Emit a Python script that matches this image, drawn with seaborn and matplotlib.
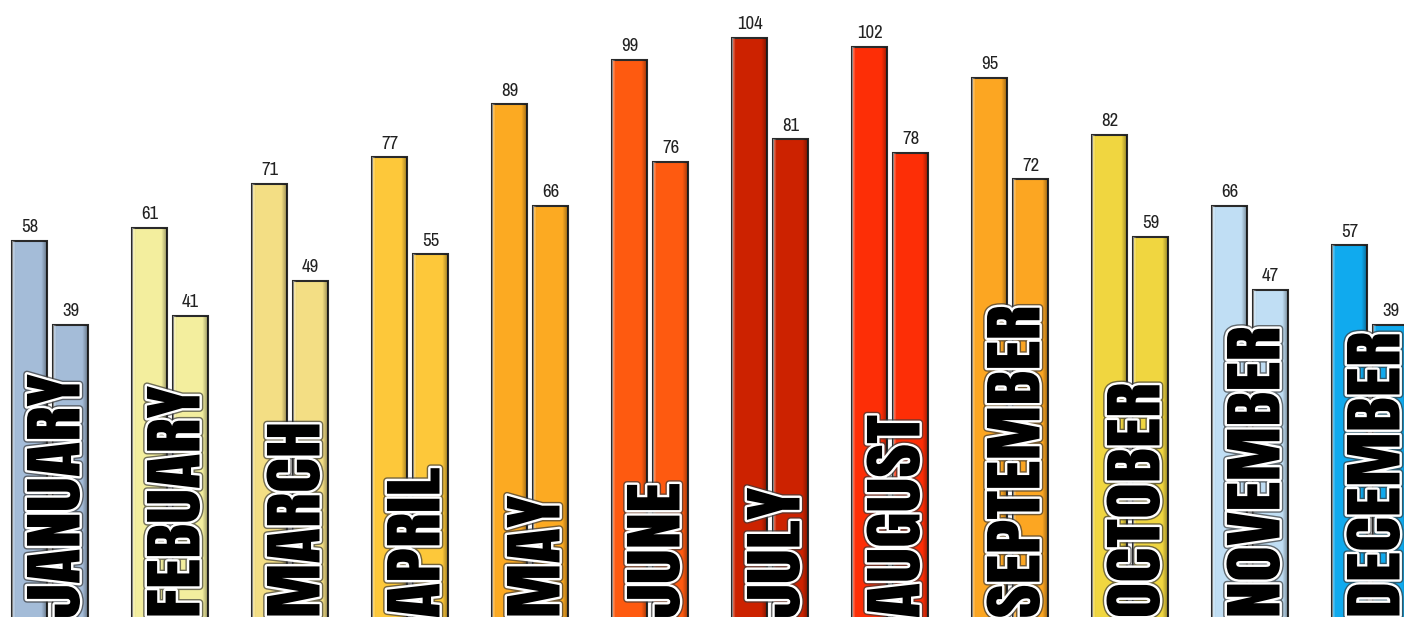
import numpy as np
import pandas as pd
import matplotlib
matplotlib.use("Agg")
import matplotlib.pyplot as plt
import matplotlib.patheffects as pe
from matplotlib.transforms import Affine2D
import seaborn as sns

# Données : températures moyennes hautes / basses par mois
mois = ["JANUARY", "FEBUARY", "MARCH", "APRIL", "MAY", "JUNE",
        "JULY", "AUGUST", "SEPTEMBER", "OCTOBER", "NOVEMBER", "DECEMBER"]
hautes = [58, 61, 71, 77, 89, 99, 104, 102, 95, 82, 66, 57]
basses = [39, 41, 49, 55, 66, 76, 81, 78, 72, 59, 47, 39]
couleurs = ["#a4bcd8", "#f3ee9e", "#f3de84", "#fdc83a", "#fcaa22", "#fe5a10",
            "#cc2200", "#fd2e06", "#fca622", "#f0d640", "#c0def4", "#10aaee"]

df = pd.DataFrame({
    "mois": mois * 2,
    "temp": hautes + basses,
    "type": ["haute"] * 12 + ["basse"] * 12,
})


class Etire(pe.AbstractPathEffect):
    """allonge le texte dans le sens de lecture (police plus étroite)"""
    def __init__(self, sx, inner):
        super().__init__()
        self.sx = sx
        self.inner = inner

    def draw_path(self, renderer, gc, tpath, affine, rgbFace=None):
        aff = Affine2D().scale(self.sx, 1.0) + affine
        self.inner.draw_path(renderer, gc, tpath, aff, rgbFace)


sns.set_style("white")
plt.rcParams['font.family'] = ['Liberation Sans Narrow', 'Archivo Narrow', 'DejaVu Sans']

fig = plt.figure(figsize=(14.04, 6.17), dpi=100)
ax = fig.add_axes([0, 0, 1, 1])

sns.barplot(data=df, x="mois", y="temp", hue="type", order=mois,
            hue_order=["haute", "basse"], dodge=True, width=0.683, gap=0.15,
            legend=False, ax=ax, edgecolor="#2a2a2a", linewidth=1.5)

# petit relief : reflet à gauche, ombre à droite
grad = np.zeros((1, 40, 4))
grad[0, :4, :3] = 1.0
grad[0, :4, 3] = np.linspace(0.45, 0.1, 4)
grad[0, -6:, :3] = 0.0
grad[0, -6:, 3] = np.linspace(0.05, 0.35, 6)

base = -40
for cont in ax.containers:
    for i, p in enumerate(cont.patches):
        # prolonger les barres sous le bas de l'image
        h = p.get_height()
        p.set_y(base)
        p.set_height(h - base)
        p.set_facecolor(couleurs[i])
        x0 = p.get_x()
        im = ax.imshow(grad, extent=[x0, x0 + p.get_width(), base, h],
                       aspect="auto", zorder=p.get_zorder() + 0.1,
                       interpolation="bilinear")
        im.set_clip_path(p)

for cont, vals in zip(ax.containers, [hautes, basses]):
    ax.bar_label(cont, labels=[str(v) for v in vals], padding=4,
                 fontsize=13.5, color="#222222")

# noms des mois, verticaux en gras
effets = [Etire(1.2, pe.Stroke(linewidth=5.5, foreground="#3a3a3a", alpha=0.7)),
          Etire(1.2, pe.Stroke(linewidth=3.5, foreground="white")),
          Etire(1.2, pe.Normal())]
for i, m in enumerate(mois):
    ax.text(i + 0.058, -27.5, m, rotation=90, rotation_mode="anchor",
            ha="left", va="center", fontsize=44,
            family=['Anton', 'DejaVu Sans'], color="black",
            path_effects=effets, zorder=5)

ax.set_xlim(-0.417, 11.283)
ax.set_ylim(-27.2, 112.6)
ax.set_axis_off()

plt.savefig("out.png", dpi=100)
